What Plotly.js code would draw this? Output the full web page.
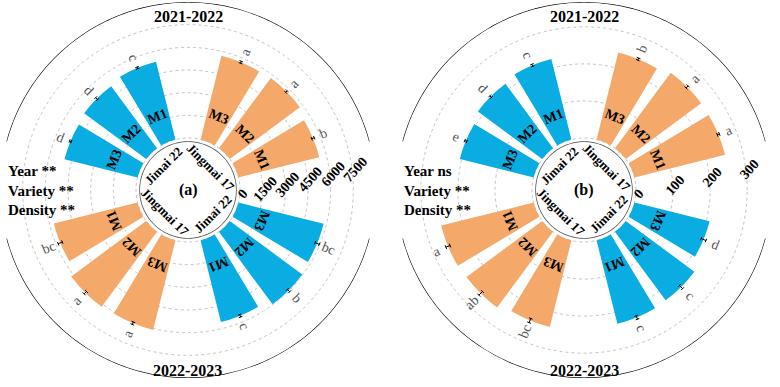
<!DOCTYPE html>
<html><head><meta charset="utf-8">
<script src="https://cdn.plot.ly/plotly-3.0.1.min.js"></script>
<style>html,body{margin:0;padding:0;background:#fff}#chart{width:780px;height:387px}</style>
</head><body><div id="chart"></div>
<script>
// ---------------- data ----------------
const densities = ["M1", "M2", "M3"];
const varieties = ["Jingmai 17", "Jimai 22"];
const seasons = ["2021-2022", "2022-2023"];
const panelLabels = ["(a)", "(b)"];
const radialTicksA = [0, 1500, 3000, 4500, 6000, 7500];
const radialTicksB = [0, 100, 200, 300];
const statsA = ["Year **", "Variety **", "Density **"];
const statsB = ["Year ns", "Variety **", "Density **"];

// panel (a)
const aJingmai2122 = [5510, 5770, 5710];
const aJimai2122   = [5310, 5110, 4980];
const aJingmai2223 = [5710, 6170, 6100];
const aJimai2223   = [5570, 5970, 5810];
const aErrJingmai2122 = [90, 70, 70];
const aErrJimai2122   = [60, 90, 60];
const aErrJingmai2223 = [150, 110, 90];
const aErrJimai2223   = [90, 110, 150];
const aLetJingmai2122 = ["b", "a", "a"];
const aLetJimai2122   = ["c", "d", "d"];
const aLetJingmai2223 = ["bc", "a", "a"];
const aLetJimai2223   = ["c", "b", "bc"];

// panel (b)
const bJingmai2122 = [252, 253, 242];
const bJimai2122   = [224, 216, 205];
const bJingmai2223 = [257, 254, 241];
const bJimai2223   = [232, 230, 209];
const bErrJingmai2122 = [3, 4, 3];
const bErrJimai2122   = [3, 3, 3];
const bErrJingmai2223 = [6, 7, 6];
const bErrJimai2223   = [5, 6, 7];
const bLetJingmai2122 = ["a", "a", "b"];
const bLetJimai2122   = ["c", "d", "e"];
const bLetJingmai2223 = ["a", "ab", "bc"];
const bLetJimai2223   = ["c", "c", "d"];

// ---------------- layout geometry ----------------
const W = 780, H = 387;
const FONT = "Liberation Serif, Times New Roman, serif";
const ORANGE = "#F4A96A", BLUE = "#0AADE1";
const R = 188, HOLE = 48;

function rminFor(rmax) { return -4 * rmax / (R - HOLE - 4); }

const panels = [
  { id: "polar",  cx: 188, cy: 190, rmax: 9000, ticks: radialTicksA, label: panelLabels[0], stats: statsA,
    vals: [[aJingmai2122, aJimai2122], [aJingmai2223, aJimai2223]],
    errs: [[aErrJingmai2122, aErrJimai2122], [aErrJingmai2223, aErrJimai2223]],
    lets: [[aLetJingmai2122, aLetJimai2122], [aLetJingmai2223, aLetJimai2223]] },
  { id: "polar2", cx: 584, cy: 190, rmax: 367, ticks: radialTicksB, label: panelLabels[1], stats: statsB,
    vals: [[bJingmai2122, bJimai2122], [bJingmai2223, bJimai2223]],
    errs: [[bErrJingmai2122, bErrJimai2122], [bErrJingmai2223, bErrJimai2223]],
    lets: [[bLetJingmai2122, bLetJimai2122], [bLetJingmai2223, bLetJimai2223]] }
];
panels.forEach(p => { p.rmin = rminFor(p.rmax); });

function vpx(p, v) { return HOLE + (v - p.rmin) / (p.rmax - p.rmin) * (R - HOLE); }
function toPaper(p, rpx, th) {
  const t = th * Math.PI / 180;
  return { x: (p.cx + rpx * Math.cos(t)) / W, y: 1 - (p.cy - rpx * Math.sin(t)) / H };
}
function norm(a) { while (a > 180) a -= 360; while (a <= -180) a += 360; return a; }

const traces = [];
const annotations = [];
const layout = {
  width: W, height: H, margin: { l: 0, r: 0, t: 0, b: 0 },
  paper_bgcolor: "#fff", plot_bgcolor: "#fff", showlegend: false,
  font: { family: FONT, color: "#000" }, annotations: annotations
};

panels.forEach(p => {
  layout[p.id] = {
    domain: { x: [(p.cx - R) / W, (p.cx + R) / W], y: [1 - (p.cy + R) / H, 1 - (p.cy - R) / H] },
    hole: HOLE / R,
    bgcolor: "rgba(0,0,0,0)",
    radialaxis: { range: [p.rmin, p.rmax], tickvals: p.ticks, showticklabels: false, ticks: "",
                  showline: false, gridcolor: "#c4c4c4", griddash: "dot", gridwidth: 1 },
    angularaxis: { rotation: 0, direction: "counterclockwise", showline: false, showgrid: false,
                   showticklabels: false, ticks: "" }
  };
  const sub = p.id;
  // bars, one trace per variety
  varieties.forEach((vn, vi) => {
    const th = [], rr = [];
    seasons.forEach((sn, si) => {
      const q = si * 2 + vi;
      densities.forEach((d, di) => { th.push(90 * q + 22.5 * (di + 1)); rr.push(p.vals[si][vi][di]); });
    });
    traces.push({ type: "barpolar", subplot: sub, theta: th, r: rr, width: 17, base: 0,
                  marker: { color: vi === 0 ? ORANGE : BLUE, line: { width: 0 } }, hoverinfo: "skip" });
  });
  // error bars
  const er = [], et = [];
  seasons.forEach((sn, si) => varieties.forEach((vn, vi) => {
    const q = si * 2 + vi;
    densities.forEach((d, di) => {
      const th = 90 * q + 22.5 * (di + 1);
      const v = p.vals[si][vi][di], e = p.errs[si][vi][di];
      er.push(v - e, v + e, null, v + e, v + e, null, v - e, v - e, null);
      et.push(th, th, null, th - 0.8, th + 0.8, null, th - 0.8, th + 0.8, null);
      // letters
      const pos = toPaper(p, vpx(p, v + e) + 10, th);
      const ang = Math.cos(th * Math.PI / 180) >= 0 ? norm(-th) : norm(180 - th);
      annotations.push({ xref: "paper", yref: "paper", x: pos.x, y: pos.y, showarrow: false,
        text: p.lets[si][vi][di], textangle: ang, xanchor: "center", yanchor: "middle",
        font: { family: FONT, size: 14, color: "#555" } });
      // M labels
      const mp = toPaper(p, 80, th);
      annotations.push({ xref: "paper", yref: "paper", x: mp.x, y: mp.y, showarrow: false,
        text: "<b>" + d + "</b>", textangle: norm(90 - th), xanchor: "center", yanchor: "middle",
        font: { family: FONT, size: 14, color: "#000" } });
    });
    // variety names inside hole
    const thq = 90 * q + 45;
    const hp = toPaper(p, vi === 0 ? 32 : 34, thq);
    annotations.push({ xref: "paper", yref: "paper", x: hp.x, y: hp.y, showarrow: false,
      text: "<b>" + vn + "</b>", textangle: si === 0 ? norm(90 - thq) : norm(270 - thq),
      xanchor: "center", yanchor: "middle", font: { family: FONT, size: 13, color: "#000" } });
  }));
  traces.push({ type: "scatterpolar", subplot: sub, mode: "lines", r: er, theta: et, connectgaps: false,
                line: { color: "#000", width: 1 }, hoverinfo: "skip", cliponaxis: false });
  // hole circle
  const ct = [], cr = [];
  for (let a = 0; a <= 360; a += 2) { ct.push(a); cr.push(p.rmin); }
  traces.push({ type: "scatterpolar", subplot: sub, mode: "lines", r: cr, theta: ct,
                line: { color: "#555", width: 1.5 }, hoverinfo: "skip", cliponaxis: false });
  // outer season arcs
  [[15, 165], [195, 345]].forEach(rg => {
    const at = [], ar = [];
    for (let a = rg[0]; a <= rg[1]; a += 1) { at.push(a); ar.push(p.rmax); }
    traces.push({ type: "scatterpolar", subplot: sub, mode: "lines", r: ar, theta: at,
                  line: { color: "#000", width: 1.2 }, hoverinfo: "skip", cliponaxis: false });
  });
  // season titles
  [[174, 90, seasons[0]], [180, 270, seasons[1]]].forEach(s => {
    const sp = toPaper(p, s[0], s[1]);
    annotations.push({ xref: "paper", yref: "paper", x: sp.x, y: sp.y, showarrow: false,
      text: "<b>" + s[2] + "</b>", xanchor: "center", yanchor: "middle",
      font: { family: FONT, size: 16, color: "#000" } });
  });
  // panel label
  annotations.push({ xref: "paper", yref: "paper", x: p.cx / W, y: 1 - p.cy / H, showarrow: false,
    text: "<b>" + p.label + "</b>", xanchor: "center", yanchor: "middle",
    font: { family: FONT, size: 16, color: "#000" } });
  // radial tick labels
  p.ticks.forEach(tv => {
    const rp = vpx(p, tv);
    annotations.push({ xref: "paper", yref: "paper", x: (p.cx + rp + 2) / W,
      y: 1 - (p.cy + 4 - (rp - 52) * 0.22) / H, showarrow: false,
      text: "<b>" + tv + "</b>", textangle: -48, xanchor: "center", yanchor: "middle",
      font: { family: FONT, size: 14, color: "#000" } });
  });
  // statistics text
  annotations.push({ xref: "paper", yref: "paper", x: (p.cx - 182) / W, y: 1 - 190 / H, showarrow: false,
    text: p.stats.map(t => "<b>" + t + "</b>").join("<br>"), align: "left", xanchor: "left", yanchor: "middle",
    font: { family: FONT, size: 15, color: "#000" } });
});

Plotly.newPlot("chart", traces, layout, { displayModeBar: false, staticPlot: true });
</script></body></html>
